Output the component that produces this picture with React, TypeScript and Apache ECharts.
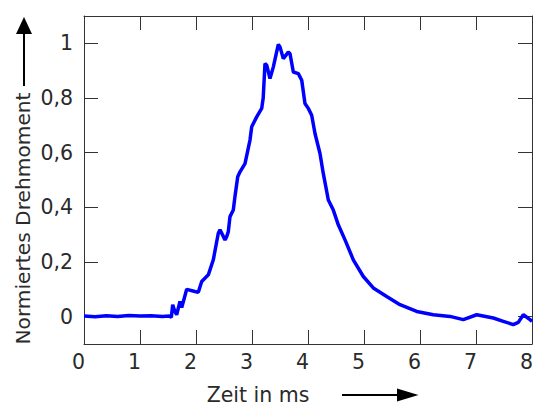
import React, { useEffect, useRef } from "react";
import * as echarts from "echarts";

const timeMs = [
  0, 0.2, 0.4, 0.6, 0.8, 1.0, 1.2, 1.4, 1.52, 1.56,
  1.584, 1.62, 1.655, 1.714, 1.745, 1.834, 1.982, 2.041, 2.102, 2.22,
  2.309, 2.398, 2.429, 2.518, 2.548, 2.577, 2.607, 2.666, 2.696, 2.745,
  2.786, 2.875, 2.964, 2.995, 3.084, 3.173, 3.2, 3.232, 3.263, 3.321,
  3.38, 3.47, 3.5, 3.559, 3.648, 3.679, 3.738, 3.827, 3.888, 3.946,
  4.005, 4.066, 4.125, 4.214, 4.273, 4.363, 4.452, 4.541, 4.661, 4.809,
  4.988, 5.166, 5.405, 5.643, 5.941, 6.238, 6.536, 6.773, 7.013, 7.309,
  7.488, 7.666, 7.755, 7.845, 7.964, 8.0,
];
const torque = [
  0.002, 0.0, 0.003, 0.001, 0.004, 0.002, 0.003, 0.001, 0.002, -0.002,
  0.044, 0.02, 0.007, 0.056, 0.033, 0.1, 0.092, 0.089, 0.129, 0.153,
  0.208, 0.305, 0.318, 0.281, 0.293, 0.311, 0.366, 0.39, 0.44, 0.512,
  0.53, 0.56, 0.646, 0.695, 0.731, 0.762, 0.8, 0.926, 0.92, 0.871,
  0.913, 0.996, 0.987, 0.944, 0.968, 0.962, 0.895, 0.889, 0.865, 0.78,
  0.762, 0.737, 0.67, 0.597, 0.524, 0.427, 0.39, 0.336, 0.281, 0.208,
  0.147, 0.105, 0.074, 0.044, 0.019, 0.007, 0.001, -0.011, 0.007, -0.005,
  -0.017, -0.029, -0.021, 0.007, -0.011, -0.017,
];
const yTicks = [0, 0.2, 0.4, 0.6, 0.8, 1];
const xName = "Zeit in ms";
const yName = "Normiertes Drehmoment";

const FONT = "DejaVu Sans";
const FS = 20.5;
const AXIS_COLOR = "#333";
const TEXT_COLOR = "#2a2a2a";

export default function App() {
  const ref = useRef<HTMLDivElement>(null);
  useEffect(() => {
    if (!ref.current) return;
    const chart = echarts.init(ref.current, null, { renderer: "svg" });
    const data = timeMs.map((t, i) => [t, torque[i]]);
    const axisLine = { show: true, onZero: false, lineStyle: { color: AXIS_COLOR, width: 1 } };
    const tick = { show: true, inside: true, length: 14, lineStyle: { color: AXIS_COLOR, width: 1 } };
    const yTick = { ...tick, customValues: yTicks };
    chart.setOption({
      animation: false,
      textStyle: { fontFamily: FONT },
      grid: { left: 84, right: 3, top: 16, bottom: 61, containLabel: false, outerBoundsMode: "none" },
      xAxis: [
        {
          type: "value", min: 0, max: 8, interval: 1, position: "bottom",
          axisLine, axisTick: tick, splitLine: { show: false },
          axisLabel: { color: TEXT_COLOR, fontSize: FS, fontFamily: FONT, margin: 7, padding: [0, 11, 0, 0] },
        },
        {
          type: "value", min: 0, max: 8, interval: 1, position: "top",
          axisLine, axisTick: tick, splitLine: { show: false },
          axisLabel: { show: false },
        },
      ],
      yAxis: [
        {
          type: "value", min: -0.1, max: 1.1, position: "left",
          axisLine, axisTick: yTick, splitLine: { show: false },
          axisLabel: {
            customValues: yTicks, color: TEXT_COLOR, fontSize: FS, fontFamily: FONT, margin: 11,
            formatter: (v: number) => String(Math.round(v * 10) / 10).replace(".", ","),
          },
        },
        {
          type: "value", min: -0.1, max: 1.1, position: "right",
          axisLine, axisTick: yTick, splitLine: { show: false },
          axisLabel: { show: false },
        },
      ],
      series: [
        {
          type: "line", data, showSymbol: false, symbol: "none",
          lineStyle: { color: "#0000ff", width: 3.5 },
          xAxisIndex: 0, yAxisIndex: 0,
        },
      ],
      graphic: [
        {
          type: "text", x: 258, y: 394.5,
          style: { text: xName, fontSize: FS, fontFamily: FONT, fill: TEXT_COLOR, align: "center", verticalAlign: "middle" },
        },
        { type: "line", shape: { x1: 342, y1: 395, x2: 400, y2: 395 }, style: { stroke: "#000", lineWidth: 2 } },
        { type: "polygon", shape: { points: [[397, 388.5], [418.5, 395], [397, 401.5]] }, style: { fill: "#000" } },
        {
          type: "text", x: 22.5, y: 218.5, rotation: Math.PI / 2,
          style: { text: yName, fontSize: 20.2, fontFamily: FONT, fill: TEXT_COLOR, align: "center", verticalAlign: "middle" },
        },
        { type: "line", shape: { x1: 24, y1: 86, x2: 24, y2: 32 }, style: { stroke: "#000", lineWidth: 2 } },
        { type: "polygon", shape: { points: [[16, 34], [24, 17], [32, 34]] }, style: { fill: "#000" } },
      ],
    });
    return () => chart.dispose();
  }, []);
  return <div ref={ref} style={{ width: 535, height: 405, position: "absolute", left: 0, top: 0 }} />;
}
